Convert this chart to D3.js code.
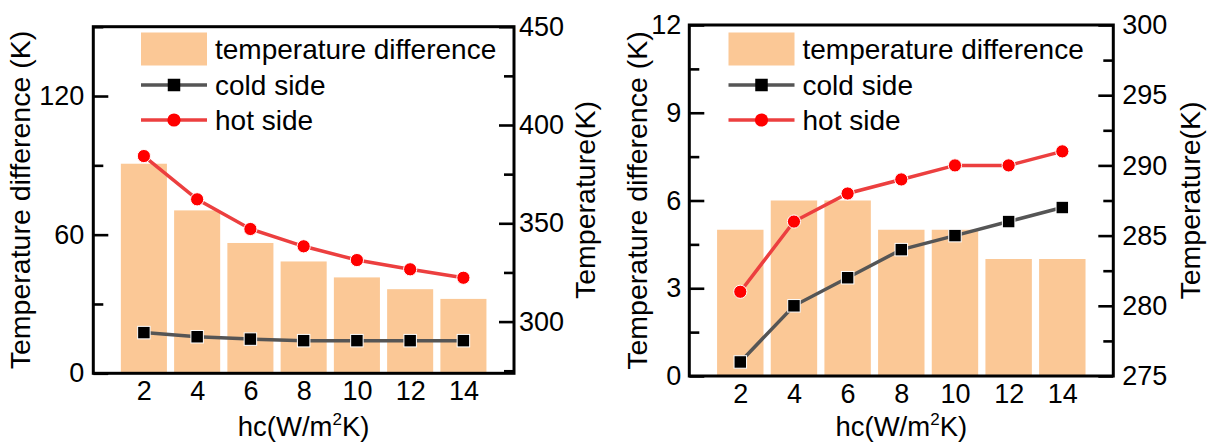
<!DOCTYPE html>
<html><head><meta charset="utf-8">
<script src="https://cdn.jsdelivr.net/npm/d3@7"></script>
<style>
body{margin:0;background:#fff;}
svg{display:block;font-family:"Liberation Sans",Arial,sans-serif;}
</style></head>
<body><svg id="c" width="1211" height="442"></svg>
<script>
// ---- data ----
const hc = [2, 4, 6, 8, 10, 12, 14];
const xTickLabels = ["2", "4", "6", "8", "10", "12", "14"];

const leftDiff = [90.7, 70.5, 56.4, 48.4, 41.5, 36.4, 32.2];
const leftCold = [294.4, 292.3, 291.1, 290.3, 290.3, 290.3, 290.3];
const leftHot  = [384.2, 362.2, 347.1, 338.3, 331.3, 326.6, 322.3];

const rightDiff = [5, 6, 6, 5, 5, 4, 4];
const rightCold = [276, 280, 282, 284, 285, 286, 287];
const rightHot  = [281, 286, 288, 289, 290, 290, 291];

const leftDiffTicks = [0, 60, 120];
const leftDiffMinor = [30, 90, 150];
const leftTempTicks = [300, 350, 400, 450];
const leftTempMinor = [275, 325, 375, 425];
const rightDiffTicks = [0, 3, 6, 9, 12];
const rightDiffMinor = [1.5, 4.5, 7.5, 10.5];
const rightTempTicks = [275, 280, 285, 290, 295, 300];
const rightTempMinor = [277.5, 282.5, 287.5, 292.5, 297.5];

const legendLabels = ["temperature difference", "cold side", "hot side"];

// ---- style ----
const barColor = "#fbc896";
const coldLine = "#555555", coldMarker = "#000000";
const hotLine = "#ec3f3f", hotMarker = "#ff0000";
const FS = 27;

const svg = d3.select("#c");

function panel(cfg) {
  const g = svg.append("g");
  const x = d3.scaleLinear().domain([0.1, 15.9]).range([cfg.x0, cfg.x1]);
  const yL = d3.scaleLinear().domain(cfg.leftDomain).range([cfg.y1, cfg.y0]);
  const yR = d3.scaleLinear().domain(cfg.rightDomain).range([cfg.y1, cfg.y0]);
  const step = x(4) - x(2);
  const bw = step * 0.865;

  // bars
  g.selectAll("rect.bar").data(hc).join("rect")
    .attr("x", d => x(d) - bw / 2)
    .attr("width", bw)
    .attr("y", (d, i) => yL(cfg.diff[i]))
    .attr("height", (d, i) => yL(0) - yL(cfg.diff[i]))
    .attr("fill", barColor);

  // lines
  const lineGen = () => d3.line().x((d, i) => x(hc[i])).y(d => yR(d));
  g.append("path").datum(cfg.cold).attr("d", lineGen()).attr("fill", "none")
    .attr("stroke", coldLine).attr("stroke-width", 3.5);
  g.append("path").datum(cfg.hot).attr("d", lineGen()).attr("fill", "none")
    .attr("stroke", hotLine).attr("stroke-width", 3.5);
  const ms = 12.5;
  g.selectAll("rect.cold").data(cfg.cold).join("rect")
    .attr("x", (d, i) => x(hc[i]) - ms / 2).attr("y", d => yR(d) - ms / 2)
    .attr("width", ms).attr("height", ms).attr("fill", coldMarker)
    .attr("stroke", "#fff").attr("stroke-width", 1);
  g.selectAll("circle.hot").data(cfg.hot).join("circle")
    .attr("cx", (d, i) => x(hc[i])).attr("cy", d => yR(d)).attr("r", 6.6)
    .attr("fill", hotMarker).attr("stroke", "#fff").attr("stroke-width", 1);

  // axes
  const styleAxis = sel => {
    sel.select(".domain").remove();
    sel.selectAll(".tick line").attr("stroke", "#000").attr("stroke-width", 2.6);
    sel.selectAll(".tick text").attr("font-size", FS).attr("fill", "#000")
      .attr("font-family", '"Liberation Sans",Arial,sans-serif');
  };
  g.append("g").attr("transform", `translate(${cfg.x0},0)`)
    .call(d3.axisLeft(yL).tickValues(cfg.lTicks).tickSize(-15).tickPadding(cfg.lPad).tickFormat(d3.format("d")))
    .call(styleAxis);
  g.append("g").attr("transform", `translate(${cfg.x0},0)`)
    .call(d3.axisLeft(yL).tickValues(cfg.lMinor).tickSize(-10).tickFormat(""))
    .call(styleAxis);
  g.append("g").attr("transform", `translate(${cfg.x1},0)`)
    .call(d3.axisRight(yR).tickValues(cfg.rTicks).tickSize(-15).tickPadding(cfg.rPad).tickFormat(d3.format("d")))
    .call(styleAxis);
  g.append("g").attr("transform", `translate(${cfg.x1},0)`)
    .call(d3.axisRight(yR).tickValues(cfg.rMinor).tickSize(-10).tickFormat(""))
    .call(styleAxis);
  g.append("g").attr("transform", `translate(0,${cfg.y1})`)
    .call(d3.axisBottom(x).tickValues(hc).tickSize(0).tickPadding(8)
      .tickFormat((d, i) => xTickLabels[i]))
    .call(styleAxis);

  // frame
  g.append("rect").attr("x", cfg.x0).attr("y", cfg.y0)
    .attr("width", cfg.x1 - cfg.x0).attr("height", cfg.y1 - cfg.y0)
    .attr("fill", "none").attr("stroke", "#000").attr("stroke-width", 3);

  // titles
  g.append("text").attr("transform", `translate(${cfg.lTitleX},${(cfg.y0 + cfg.y1) / 2}) rotate(-90)`)
    .attr("text-anchor", "middle").attr("font-size", 28.5).text("Temperature difference (K)");
  g.append("text").attr("transform", `translate(${cfg.rTitleX},${(cfg.y0 + cfg.y1) / 2}) rotate(-90)`)
    .attr("text-anchor", "middle").attr("font-size", 28.5).text("Temperature(K)");
  const xt = g.append("text").attr("x", (cfg.x0 + cfg.x1) / 2).attr("y", 436)
    .attr("text-anchor", "middle").attr("font-size", 27.5);
  xt.append("tspan").text("hc(W/m");
  xt.append("tspan").attr("font-size", 17).attr("dy", -11).text("2");
  xt.append("tspan").attr("dy", 11).text("K)");

  // legend
  const lx = cfg.legX, rows = [49, 85, 120];
  g.append("rect").attr("x", lx).attr("y", rows[0] - 16.5).attr("width", 66).attr("height", 33)
    .attr("fill", barColor);
  g.append("line").attr("x1", lx).attr("x2", lx + 66).attr("y1", rows[1]).attr("y2", rows[1])
    .attr("stroke", coldLine).attr("stroke-width", 3.5);
  g.append("rect").attr("x", lx + 33 - ms / 2).attr("y", rows[1] - ms / 2).attr("width", ms).attr("height", ms)
    .attr("fill", coldMarker);
  g.append("line").attr("x1", lx).attr("x2", lx + 66).attr("y1", rows[2]).attr("y2", rows[2])
    .attr("stroke", hotLine).attr("stroke-width", 3.5);
  g.append("circle").attr("cx", lx + 33).attr("cy", rows[2]).attr("r", 6.6).attr("fill", hotMarker);
  legendLabels.forEach((t, i) => {
    g.append("text").attr("x", lx + 74).attr("y", rows[i] + 9.5).attr("font-size", 28).text(t);
  });
}

panel({
  x0: 93.3, x1: 514, y0: 26.7, y1: 373.3,
  leftDomain: [0, 150], rightDomain: [273.7, 450],
  diff: leftDiff, cold: leftCold, hot: leftHot,
  lTicks: leftDiffTicks, lMinor: leftDiffMinor, rTicks: leftTempTicks, rMinor: leftTempMinor,
  lPad: 9, rPad: 5, lTitleX: 30, rTitleX: 595, legX: 141
});
panel({
  x0: 689.3, x1: 1113.3, y0: 25, y1: 376,
  leftDomain: [0, 12], rightDomain: [275, 300],
  diff: rightDiff, cold: rightCold, hot: rightHot,
  lTicks: rightDiffTicks, lMinor: rightDiffMinor, rTicks: rightTempTicks, rMinor: rightTempMinor,
  lPad: 8, rPad: 9, lTitleX: 647, rTitleX: 1200, legX: 728.5
});
</script></body></html>
